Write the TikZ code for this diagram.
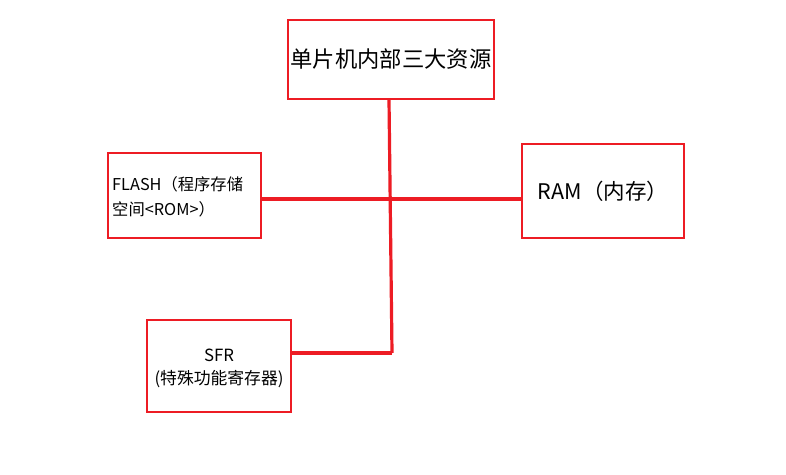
\documentclass[tikz,border=0pt]{standalone}
\usepackage{fontspec}
\setmainfont{Noto Sans CJK SC}
\begin{document}
\begin{tikzpicture}[x=1pt,y=-1pt,
  box/.style={draw=linered, line width=1.6pt, fill=white, inner sep=0pt},
  conn/.style={draw=linered, line width=3.2pt}]
\definecolor{linered}{HTML}{ED1C24}
\useasboundingbox[fill=white] (0,0) rectangle (786,474);
\node[box, minimum width=206pt, minimum height=79pt, font=\fontsize{22.3}{26}\selectfont] (top) at (391,59.5) {单片机内部三大资源};
\node[box, minimum width=153pt, minimum height=85pt] (flash) at (184.5,195.5) {};
\node[box, minimum width=162pt, minimum height=94pt, font=\fontsize{21.5}{24}\selectfont] (ram) at (603,191) {RAM（内存）};
\node[box, minimum width=144pt, minimum height=92pt] (sfr) at (219,366) {};
\node[anchor=west, align=left, font=\fontsize{16.3}{25}\selectfont, inner sep=0pt] (flasht) at (112,197) {FLASH（程序存储\\空间<ROM>）};
\node[align=center, font=\fontsize{16.8}{23}\selectfont, inner sep=0pt] (sfrt) at (219,368) {SFR\\(特殊功能寄存器)};
\coordinate (h) at (390,199);
\coordinate (j) at (392,353);
\draw[conn] (top.south -| 389,0) -- (j);
\draw[conn] (flash.east |- h) -- (ram.west |- h);
\draw[conn] (sfr.east |- j) -- (j);
\end{tikzpicture}
\end{document}
